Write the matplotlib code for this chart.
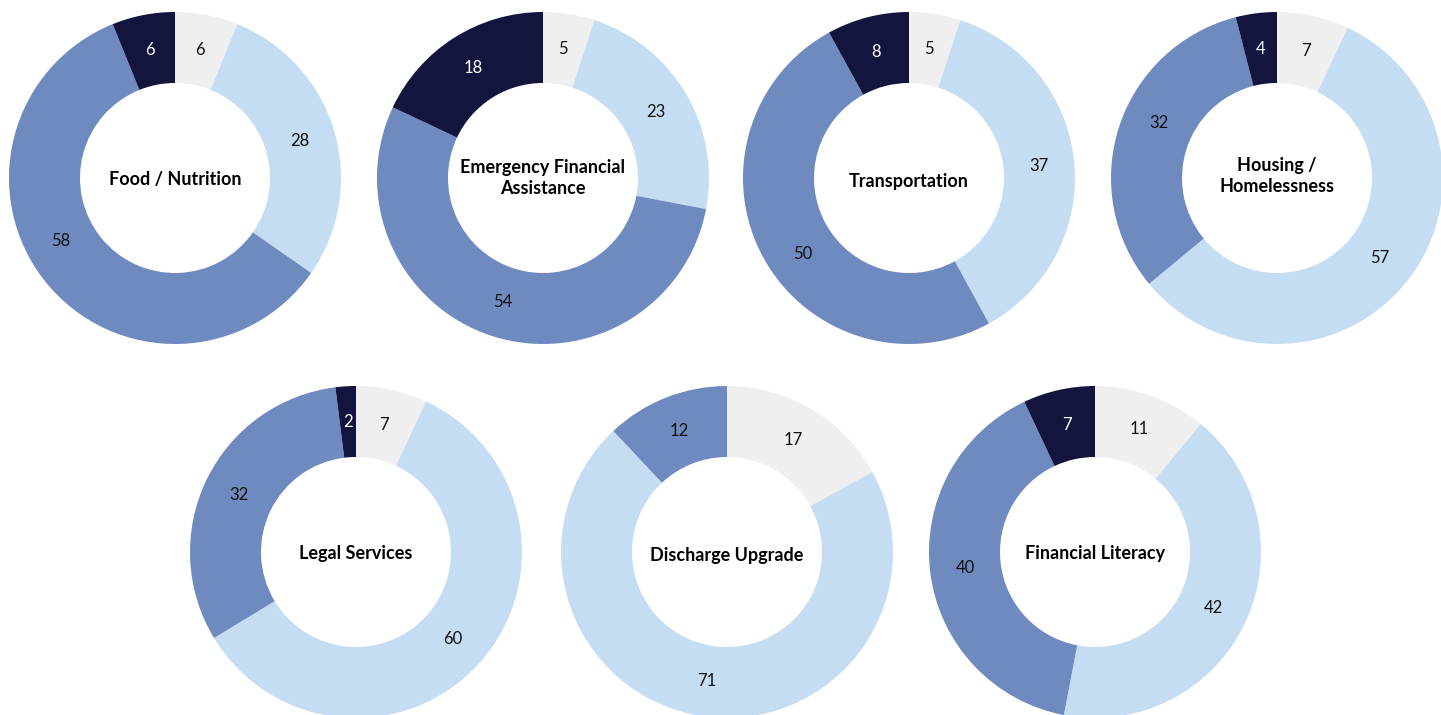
import matplotlib
matplotlib.use("Agg")
import matplotlib.pyplot as plt
import numpy as np

# Survey results per service area (segments clockwise from 12 o'clock)
titles = ["Food / Nutrition", "Emergency Financial\nAssistance", "Transportation",
          "Housing /\nHomelessness", "Legal Services", "Discharge Upgrade",
          "Financial Literacy"]
seg_grey = [6, 5, 5, 7, 7, 17, 11]
seg_light = [28, 23, 37, 57, 60, 71, 42]
seg_mid = [58, 54, 50, 32, 32, 12, 40]
seg_navy = [6, 18, 8, 4, 2, 0, 7]

colors = ["#EFEFEF", "#C4DDF3", "#6E8ABF", "#13153F"]
text_colors = ["#111111", "#111111", "#111111", "#FFFFFF"]

# label angle tweaks (degrees, clockwise) keyed by (chart, segment)
label_nudge = {(0, 2): 9.5, (2, 2): -7.0, (3, 2): 7.0}
# title vertical tweaks in pixels (positive = down)
title_shift = [1, 0, 3, -2, 1, 4, 1]

W, H = 1441, 715
fig = plt.figure(figsize=(W / 100, H / 100), dpi=100)
ax = fig.add_axes([0, 0, 1, 1])
ax.set_xlim(0, W)
ax.set_ylim(0, H)
ax.set_aspect("equal")
ax.axis("off")

centers = [(175, 178), (543, 178), (909, 178), (1277, 178),
           (356, 552), (727, 552), (1095, 552)]
R = 166
ring = 71
FONT = "Lato"

for i, title in enumerate(titles):
    vals = [seg_grey[i], seg_light[i], seg_mid[i], seg_navy[i]]
    cx, cy = centers[i]
    cy = H - cy
    wedges, _ = ax.pie(vals, colors=colors, startangle=90, counterclock=False,
                       radius=R, center=(cx, cy),
                       wedgeprops=dict(width=ring, linewidth=0))
    rl = R - ring / 2
    for j, (w, v, tc) in enumerate(zip(wedges, vals, text_colors)):
        if v == 0:
            continue
        ang = np.deg2rad((w.theta1 + w.theta2) / 2 - label_nudge.get((i, j), 0))
        ax.text(cx + rl * np.cos(ang), cy + rl * np.sin(ang), str(v),
                ha="center", va="center", fontsize=12, color=tc, family=FONT)
    ax.text(cx, cy - title_shift[i], title, ha="center", va="center",
            fontsize=13, fontweight="bold", color="#000000", family=FONT,
            linespacing=1.32)

ax.set_xlim(0, W)
ax.set_ylim(0, H)
fig.savefig("out.png", dpi=100)
